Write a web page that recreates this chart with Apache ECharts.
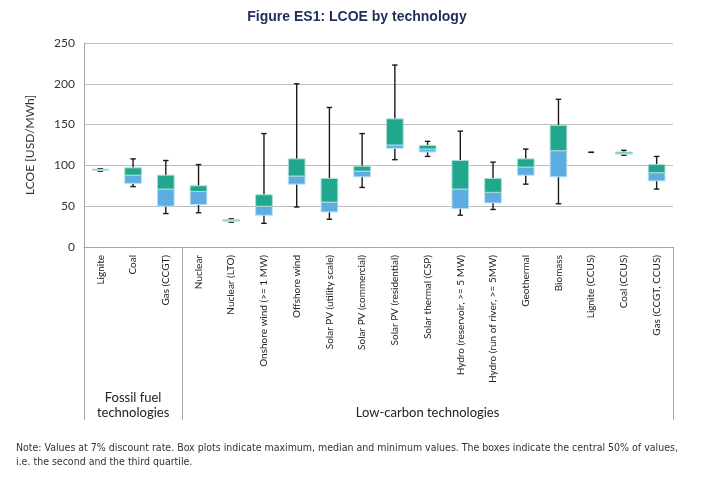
<!DOCTYPE html>
<html><head><meta charset="utf-8">
<script src="https://cdn.jsdelivr.net/npm/echarts@6/dist/echarts.min.js"></script>
<style>html,body{margin:0;padding:0;background:#fff}#c{width:722px;height:478px}</style>
</head><body><div id="c"></div>
<script>
const categories = ["Lignite","Coal","Gas (CCGT)","Nuclear","Nuclear (LTO)","Onshore wind (>= 1 MW)","Offshore wind","Solar PV (utility scale)","Solar PV (commercial)","Solar PV (residential)","Solar thermal (CSP)","Hydro (reservoir, >= 5 MW)","Hydro (run of river, >= 5MW)","Geothermal","Biomass","Lignite (CCUS)","Coal (CCUS)","Gas (CCGT, CCUS)"];
const minVals =    [93, 74, 41, 42, 30.5, 29, 49, 34, 73, 107, 111, 39, 46, 77, 53, 116, 112.5, 71];
const q1Vals =     [93.8, 78, 50, 52, 31.5, 39, 77, 43, 86, 121, 116.5, 47, 54, 88, 86, 116, 113.8, 81];
const medianVals = [94.5, 88, 71, 68, 32.5, 50, 87, 55, 93, 125, 120, 71, 67, 98, 118, 116, 115, 91];
const q3Vals =     [95.3, 97, 88, 75, 33.5, 64, 108, 84, 99, 157, 124.5, 106, 84, 108, 149, 116, 116.4, 101];
const maxVals =    [96, 108, 106, 101, 34.5, 139, 200, 171, 139, 223, 129.5, 142, 104, 120, 181, 116, 118.5, 111];
const yTicks = [0, 50, 100, 150, 200, 250];
const groups = [{name: "Fossil fuel\ntechnologies", from: 0, to: 2}, {name: "Low-carbon technologies", from: 3, to: 17}];

const data = categories.map((c, i) => [i, minVals[i], q1Vals[i], medianVals[i], q3Vals[i], maxVals[i]]);
const chart = echarts.init(document.getElementById('c'), null, {renderer: 'canvas'});
const TEAL = '#22a78f', BLUE = '#5dade2';

function renderItem(params, api) {
  const x = api.value(0);
  const pMin = api.coord([x, api.value(1)]);
  const pQ1 = api.coord([x, api.value(2)]);
  const pMed = api.coord([x, api.value(3)]);
  const pQ3 = api.coord([x, api.value(4)]);
  const pMax = api.coord([x, api.value(5)]);
  const bw = api.size([1, 0])[0];
  const w = bw * 0.51, cap = 5.5;
  const cx = pMin[0];
  const children = [];
  const ls = {stroke: '#1a1a1a', lineWidth: 1.4};
  if (pMax[1] !== pMin[1]) {
    children.push({type: 'line', shape: {x1: cx, y1: pMax[1], x2: cx, y2: pMin[1]}, style: ls});
  }
  children.push({type: 'line', shape: {x1: cx - cap/2, y1: pMax[1], x2: cx + cap/2, y2: pMax[1]}, style: ls});
  children.push({type: 'line', shape: {x1: cx - cap/2, y1: pMin[1], x2: cx + cap/2, y2: pMin[1]}, style: ls});
  if (pQ1[1] !== pQ3[1]) {
    children.push({type: 'rect', shape: {x: cx - w/2, y: pMed[1], width: w, height: pQ1[1] - pMed[1]}, style: {fill: BLUE, stroke: '#b9def3', lineWidth: 1}});
    children.push({type: 'rect', shape: {x: cx - w/2, y: pQ3[1], width: w, height: pMed[1] - pQ3[1]}, style: {fill: TEAL, stroke: '#a9ddd2', lineWidth: 1}});
  }
  return {type: 'group', children: children};
}

const gridL = 84, gridR = 722 - 673, gridT = 43, gridB = 478 - 247;
chart.setOption({
  animation: false,
  title: {text: 'Figure ES1: LCOE by technology', left: 352, textAlign: 'center', top: 5,
    textStyle: {fontFamily: 'Liberation Sans', fontWeight: 'bold', fontSize: 14, color: '#1f2d5c'}},
  grid: {left: gridL, right: gridR, top: gridT, bottom: gridB},
  xAxis: {type: 'category', data: categories,
    axisLine: {show: true, lineStyle: {color: '#a6a6a6', width: 1}},
    axisTick: {show: false},
    axisLabel: {rotate: 90, interval: 0, fontFamily: 'Lato', fontSize: 10, color: '#222', margin: 8}},
  yAxis: {type: 'value', min: 0, max: 250, interval: 50,
    name: 'LCOE [USD/MWh]', nameLocation: 'middle', nameGap: 48,
    nameTextStyle: {fontFamily: 'Lato', fontSize: 12, color: '#333'},
    axisLine: {show: true, lineStyle: {color: '#a6a6a6'}},
    axisTick: {show: false},
    axisLabel: {fontFamily: 'Lato', fontSize: 12, color: '#333', margin: 9,
      formatter: v => yTicks.includes(v) ? String(v) : ''},
    splitLine: {lineStyle: {color: '#bdbdbd', width: 1}}},
  series: [{type: 'custom', renderItem: renderItem, data: data,
    encode: {x: 0, y: [1, 2, 3, 4, 5]}, z: 5}]
});

// group separators and labels, positioned through the axis scale
const c0 = chart.convertToPixel({xAxisIndex: 0}, 0);
const c1 = chart.convertToPixel({xAxisIndex: 0}, 1);
const band = c1 - c0;
const yBase = chart.convertToPixel({yAxisIndex: 0}, 0);
const yBottom = 420;
const g = [];
const bounds = new Set();
groups.forEach(gr => {
  bounds.add(chart.convertToPixel({xAxisIndex: 0}, gr.from) - band/2);
  bounds.add(chart.convertToPixel({xAxisIndex: 0}, gr.to) + band/2);
});
bounds.forEach(x => {
  g.push({type: 'line', shape: {x1: Math.round(x) + 0.5, y1: yBase, x2: Math.round(x) + 0.5, y2: yBottom}, style: {stroke: '#a6a6a6', lineWidth: 1}, silent: true});
});
groups.forEach(gr => {
  const xa = chart.convertToPixel({xAxisIndex: 0}, gr.from) - band/2;
  const xb = chart.convertToPixel({xAxisIndex: 0}, gr.to) + band/2;
  g.push({type: 'text', x: (xa + xb)/2, y: 420, style: {text: gr.name, fontFamily: 'Lato', fontSize: 13, fill: '#222', align: 'center', verticalAlign: 'bottom', lineHeight: 15}});
});
g.push({type: 'text', x: 16, y: 441, style: {text: 'Note: Values at 7% discount rate. Box plots indicate maximum, median and minimum values. The boxes indicate the central 50% of values,\ni.e. the second and the third quartile.', fontFamily: 'Liberation Sans Narrow, DejaVu Sans Condensed', fontSize: 10.5, fill: '#333', lineHeight: 14}});
chart.setOption({graphic: g});
</script></body></html>
